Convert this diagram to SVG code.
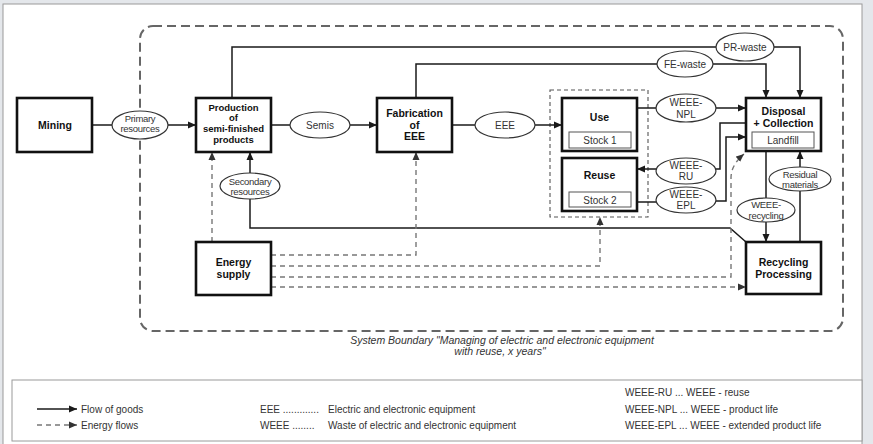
<svg xmlns="http://www.w3.org/2000/svg" width="873" height="444" viewBox="0 0 873 444">
<defs>
<marker id="ah" markerUnits="userSpaceOnUse" markerWidth="9" markerHeight="8" refX="8" refY="4" orient="auto"><path d="M0,0.5 L8,4 L0,7.5 z" fill="#1a1a1a"/></marker>
<marker id="ahd" markerUnits="userSpaceOnUse" markerWidth="9" markerHeight="8" refX="8" refY="4" orient="auto"><path d="M0,0.5 L8,4 L0,7.5 z" fill="#333"/></marker>
</defs>
<style>
.box{fill:#fff;stroke:#111;stroke-width:2.6}
.inner{fill:#fff;stroke:#555;stroke-width:1}
.ell{fill:#fff;stroke:#333;stroke-width:1.2}
.c{fill:none;stroke:#1a1a1a;stroke-width:1.5}
.e{fill:none;stroke:#777;stroke-width:1.4;stroke-dasharray:5,4}
.b{font-family:"Liberation Sans",Arial,sans-serif;font-weight:bold;font-size:10.5px;fill:#111;text-anchor:middle}
.b2{font-family:"Liberation Sans",Arial,sans-serif;font-weight:bold;font-size:9.5px;fill:#111;text-anchor:middle}
.t{font-family:"Liberation Sans",Arial,sans-serif;font-size:10px;fill:#333;text-anchor:middle}
.s{font-family:"Liberation Sans",Arial,sans-serif;font-size:9.5px;fill:#333;text-anchor:middle;letter-spacing:-0.3px}
.l{font-family:"Liberation Sans",Arial,sans-serif;font-size:10px;fill:#333}
.cap{font-family:"Liberation Sans",Arial,sans-serif;font-size:10.5px;font-style:italic;fill:#333;text-anchor:middle}
</style>
<rect x="0" y="0" width="873" height="444" fill="#e4e7eb"/>
<rect x="3" y="4" width="859" height="441" fill="#fff" stroke="#9a9a9a" stroke-width="1"/>
<rect x="140" y="26" width="703" height="305" rx="13" fill="none" stroke="#666" stroke-width="2" stroke-dasharray="9,5"/>
<text class="cap" x="502" y="344">System Boundary "Managing of electric and electronic equipment</text>
<text class="cap" x="500" y="355">with reuse, x years"</text>
<rect x="550" y="90" width="98" height="127" fill="none" stroke="#555" stroke-width="1.1" stroke-dasharray="4,3"/>
<g id="connectors">
<path class="c" d="M92,125 H112"/>
<path class="c" d="M168,125 H196" marker-end="url(#ah)"/>
<path class="c" d="M271,125 H290"/>
<path class="c" d="M350,125 H377" marker-end="url(#ah)"/>
<path class="c" d="M452,125 H475"/>
<path class="c" d="M535,125 H562" marker-end="url(#ah)"/>
<path class="c" d="M232,98 V47 H800 V98" marker-end="url(#ah)"/>
<path class="c" d="M416,98 V64 H766 V98" marker-end="url(#ah)"/>
<path class="c" d="M637,108 H746" marker-end="url(#ah)"/>
<path class="c" d="M746,123 H720 V169 H637" marker-end="url(#ah)"/>
<path class="c" d="M637,202 H660"/>
<path class="c" d="M714,201 H726 V137 H746" marker-end="url(#ah)"/>
<path class="c" d="M766,151 V242" marker-end="url(#ah)"/>
<path class="c" d="M800,242 V151" marker-end="url(#ah)"/>
<path class="c" d="M746,242 L730,228 H250 V152" marker-end="url(#ah)"/>
<path class="e" d="M212,242 V152" marker-end="url(#ahd)"/>
<path class="e" d="M271,255 H416 V152" marker-end="url(#ahd)"/>
<path class="e" d="M271,266 H600 V217" marker-end="url(#ahd)"/>
<path class="e" d="M271,277 H731 V178 Q731,165 744,154" marker-end="url(#ahd)"/>
<path class="e" d="M271,287 H746" marker-end="url(#ahd)"/>
</g>
<g id="mining"><rect class="box" x="17" y="98" width="75" height="54"/><text class="b" x="55" y="129">Mining</text></g>
<g id="primary-resources"><ellipse class="ell" cx="140" cy="125" rx="28" ry="14"/><text class="s" x="140" y="121.5">Primary</text><text class="s" x="140" y="131.5">resources</text></g>
<g id="production"><rect class="box" x="196" y="98" width="75" height="54"/><text class="b2" x="233.5" y="110.5">Production</text><text class="b2" x="233.5" y="121.3">of</text><text class="b2" x="233.5" y="132.1">semi-finished</text><text class="b2" x="233.5" y="142.9">products</text></g>
<g id="semis"><ellipse class="ell" cx="320" cy="125" rx="30" ry="13"/><text class="t" x="320" y="128.5">Semis</text></g>
<g id="fabrication"><rect class="box" x="377" y="98" width="75" height="54"/><text class="b" x="414.5" y="117">Fabrication</text><text class="b" x="414.5" y="128.5">of</text><text class="b" x="414.5" y="140">EEE</text></g>
<g id="eee"><ellipse class="ell" cx="505" cy="125" rx="30" ry="13"/><text class="t" x="505" y="128.5">EEE</text></g>
<g id="use"><rect class="box" x="562" y="98" width="75" height="53"/><text class="b" x="599.5" y="121">Use</text><rect class="inner" x="569" y="132" width="62" height="16"/><text class="t" x="600" y="144">Stock 1</text></g>
<g id="reuse"><rect class="box" x="562" y="158" width="75" height="53"/><text class="b" x="599.5" y="179">Reuse</text><rect class="inner" x="569" y="192" width="62" height="15"/><text class="t" x="600" y="203.5">Stock 2</text></g>
<g id="disposal"><rect class="box" x="746" y="98" width="75" height="53"/><text class="b" x="783.5" y="115">Disposal</text><text class="b" x="783.5" y="127">+ Collection</text><rect class="inner" x="752" y="132" width="62" height="16"/><text class="t" x="783" y="144">Landfill</text></g>
<g id="pr-waste"><ellipse class="ell" cx="745" cy="47" rx="29" ry="14"/><text class="t" x="745" y="50.5">PR-waste</text></g>
<g id="fe-waste"><ellipse class="ell" cx="685" cy="64" rx="28" ry="13"/><text class="t" x="685" y="67.5">FE-waste</text></g>
<g id="weee-npl"><ellipse class="ell" cx="686" cy="108" rx="30" ry="14"/><text class="t" x="686" y="106">WEEE-</text><text class="t" x="686" y="117.5">NPL</text></g>
<g id="weee-ru"><ellipse class="ell" cx="686" cy="171" rx="30" ry="13"/><text class="t" x="686" y="168.5">WEEE-</text><text class="t" x="686" y="180">RU</text></g>
<g id="weee-epl"><ellipse class="ell" cx="686" cy="200" rx="30" ry="13"/><text class="t" x="686" y="197.5">WEEE-</text><text class="t" x="686" y="208.5">EPL</text></g>
<g id="secondary-resources"><ellipse class="ell" cx="250" cy="186" rx="30" ry="13"/><text class="s" x="250" y="184.5">Secondary</text><text class="s" x="250" y="194.5">resources</text></g>
<g id="residual-materials"><ellipse class="ell" cx="800" cy="179" rx="31" ry="12"/><text class="s" x="800" y="177.5">Residual</text><text class="s" x="800" y="187.5">materials</text></g>
<g id="weee-recycling"><ellipse class="ell" cx="766" cy="210" rx="29" ry="12"/><text class="s" x="766" y="207.5">WEEE-</text><text class="s" x="766" y="218.5">recycling</text></g>
<g id="energy-supply"><rect class="box" x="196" y="242" width="75" height="53"/><text class="b" x="233.5" y="266">Energy</text><text class="b" x="233.5" y="278">supply</text></g>
<g id="recycling"><rect class="box" x="746" y="242" width="75" height="52"/><text class="b" x="783.5" y="266">Recycling</text><text class="b" x="783.5" y="278">Processing</text></g>
<g id="legend">
<rect x="12" y="380" width="850" height="61" fill="#fff" stroke="#9a9a9a" stroke-width="1"/>
<path class="c" d="M37,409 H77" marker-end="url(#ah)"/>
<path class="e" d="M37,425 H77" stroke-dasharray="4,3" marker-end="url(#ahd)"/>
<text class="l" x="81" y="412.5">Flow of goods</text>
<text class="l" x="81" y="428.5">Energy flows</text>
<text class="l" x="260" y="412.5">EEE .............</text>
<text class="l" x="328" y="412.5">Electric and electronic equipment</text>
<text class="l" x="260" y="428.5">WEEE ........</text>
<text class="l" x="328" y="428.5">Waste of electric and electronic equipment</text>
<text class="l" x="625" y="396">WEEE-RU  ... WEEE - reuse</text>
<text class="l" x="625" y="412.5">WEEE-NPL ... WEEE - product life</text>
<text class="l" x="625" y="428.5">WEEE-EPL ... WEEE - extended product life</text>
</g>
</svg>
